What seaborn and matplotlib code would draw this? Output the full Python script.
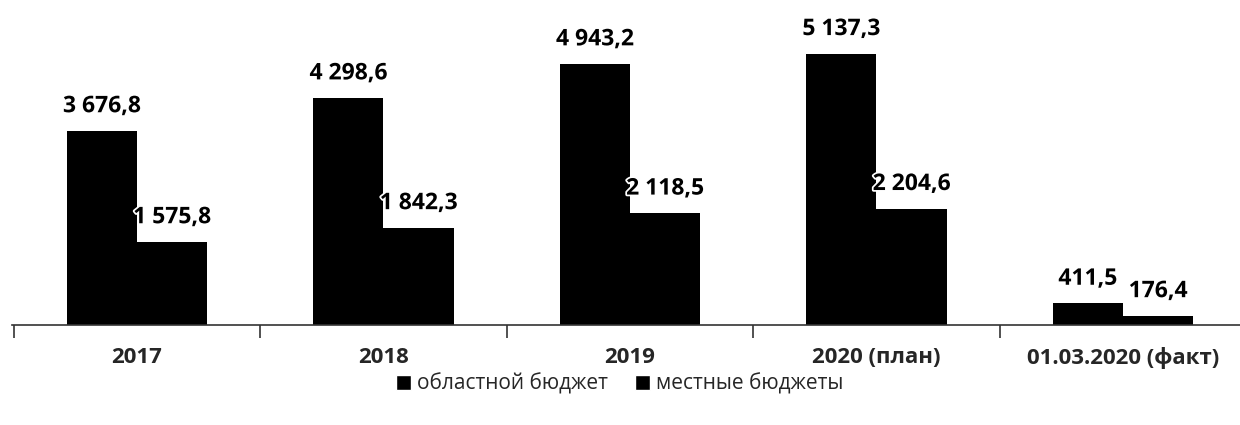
import pandas as pd
import matplotlib.pyplot as plt
import matplotlib.patheffects as pe
from matplotlib.ticker import FixedLocator
from matplotlib.patches import Patch
import seaborn as sns

# Data
categories = ["2017", "2018", "2019", "2020 (план)", "01.03.2020 (факт)"]
oblast = [3676.8, 4298.6, 4943.2, 5137.3, 411.5]
local = [1575.8, 1842.3, 2118.5, 2204.6, 176.4]
series_names = ["областной бюджет", "местные бюджеты"]

df = pd.DataFrame({
    "cat": categories * 2,
    "value": oblast + local,
    "series": [series_names[0]] * 5 + [series_names[1]] * 5,
})

sns.set_style("white")
plt.rcParams["font.family"] = ["Open Sans", "DejaVu Sans"]

fig = plt.figure(figsize=(12.4, 4.25), dpi=100)
ax = fig.add_axes([12 / 1240, 100 / 425, 1228 / 1240, 317 / 425])

sns.barplot(
    data=df, x="cat", y="value", hue="series",
    palette=["black", "black"], width=0.57, gap=0,
    saturation=1, linewidth=0, ax=ax, legend=False,
)

def fmt(v):
    return f"{v:,.1f}".replace(",", " ").replace(".", ",")

for cont in ax.containers:
    labels = [fmt(b.get_height()) for b in cont]
    texts = ax.bar_label(cont, labels=labels, padding=9, fontsize=16.5,
                         fontweight="bold", color="black")
    for t in texts:
        t.set_path_effects([pe.withStroke(linewidth=2.5, foreground="white")])

ax.set_xlim(-0.507, 4.475)
ax.set_ylim(0, 6000)
ax.set_xlabel("")
ax.set_ylabel("")
ax.set_yticks([])

for s in ["top", "right", "left"]:
    ax.spines[s].set_visible(False)
ax.spines["bottom"].set_color("#333333")
ax.spines["bottom"].set_linewidth(1.2)

ax.xaxis.set_minor_locator(FixedLocator([-0.5, 0.5, 1.5, 2.5, 3.5]))
ax.tick_params(axis="x", which="major", length=0, pad=16)
ax.tick_params(axis="x", which="minor", bottom=True, length=9, width=1.2,
               color="#333333", direction="out")
for lbl in ax.get_xticklabels():
    lbl.set_fontsize(16)
    lbl.set_fontweight("bold")

handles = [Patch(facecolor="black", label=n) for n in series_names]
fig.legend(handles=handles, loc="center", bbox_to_anchor=(0.5, 41 / 425),
           ncol=2, frameon=False, fontsize=15, handlelength=0.7,
           handleheight=0.7, handletextpad=0.3, columnspacing=1.3)

fig.savefig("out.png", dpi=100)
